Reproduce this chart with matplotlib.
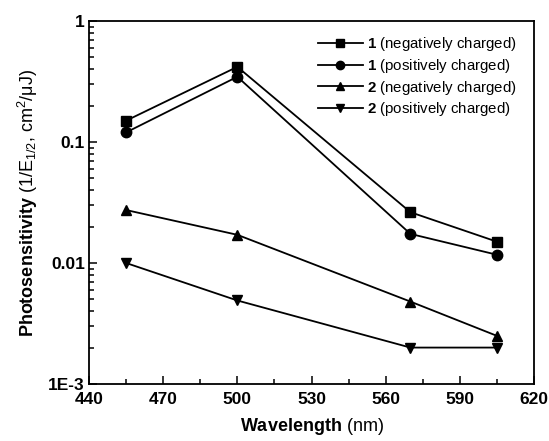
import numpy as np
import matplotlib.pyplot as plt
from matplotlib.ticker import LogLocator, NullFormatter

plt.rcParams['font.family'] = ['Liberation Sans', 'DejaVu Sans']
plt.rcParams['mathtext.fontset'] = 'custom'
plt.rcParams['mathtext.rm'] = 'Liberation Sans'
plt.rcParams['mathtext.it'] = 'Liberation Sans:italic'
plt.rcParams['mathtext.bf'] = 'Liberation Sans:bold'

# data
wavelength = [455, 500, 570, 605]
neg_1 = [0.150, 0.418, 0.0263, 0.0150]
pos_1 = [0.120, 0.346, 0.0174, 0.0117]
neg_2 = [0.0274, 0.0171, 0.0048, 0.0025]
pos_2 = [0.0100, 0.0049, 0.0020, 0.0020]

labels = [r"$\bf{1}$ (negatively charged)", r"$\bf{1}$ (positively charged)",
          r"$\bf{2}$ (negatively charged)", r"$\bf{2}$ (positively charged)"]
markers = ["s", "o", "^", "v"]

fig = plt.figure(figsize=(5.49, 4.41), dpi=100)
ax = fig.add_axes([89/549, 57/441, 445/549, 363/441])

for ys, m, lab in zip([neg_1, pos_1, neg_2, pos_2], markers, labels):
    ax.plot(wavelength, ys, color="black", lw=1.3, marker=m, ms=7.5, label=lab)

ax.set_yscale("log")
ax.set_xlim(440, 620)
ax.set_ylim(1e-3, 1)
ax.set_xticks(np.arange(440, 621, 30))
ax.set_xticks(np.arange(455, 620, 30), minor=True)
ax.set_yticks([1e-3, 1e-2, 1e-1, 1])
ax.set_yticklabels(["1E-3", "0.01", "0.1", "1"])
ax.yaxis.set_minor_locator(LogLocator(base=10, subs=np.arange(2, 10)))
ax.yaxis.set_minor_formatter(NullFormatter())
ax.tick_params(which="both", direction="in", width=1.1)
ax.tick_params(which="major", length=6, labelsize=12.5, pad=3)
ax.tick_params(axis="x", which="major", pad=6)
ax.tick_params(which="minor", length=3.5)
for lab in ax.get_xticklabels() + ax.get_yticklabels():
    lab.set_fontweight("bold")
for s in ax.spines.values():
    s.set_linewidth(1.3)

ax.set_xlabel(r"$\bf{Wavelength}$ (nm)", fontsize=13, labelpad=6)
ax.set_ylabel("$\\bf{Photosensitivity}$ (1/E$_{1/2}$, cm$^{2}$/\u03bcJ)", fontsize=13, labelpad=6)

ax.legend(loc="upper right", frameon=False, fontsize=10.8, handlelength=3.0,
          handletextpad=0.3, labelspacing=0.25, markerscale=0.8,
          borderaxespad=0.3, bbox_to_anchor=(0.985, 0.99))

fig.savefig("out.png", dpi=100)
